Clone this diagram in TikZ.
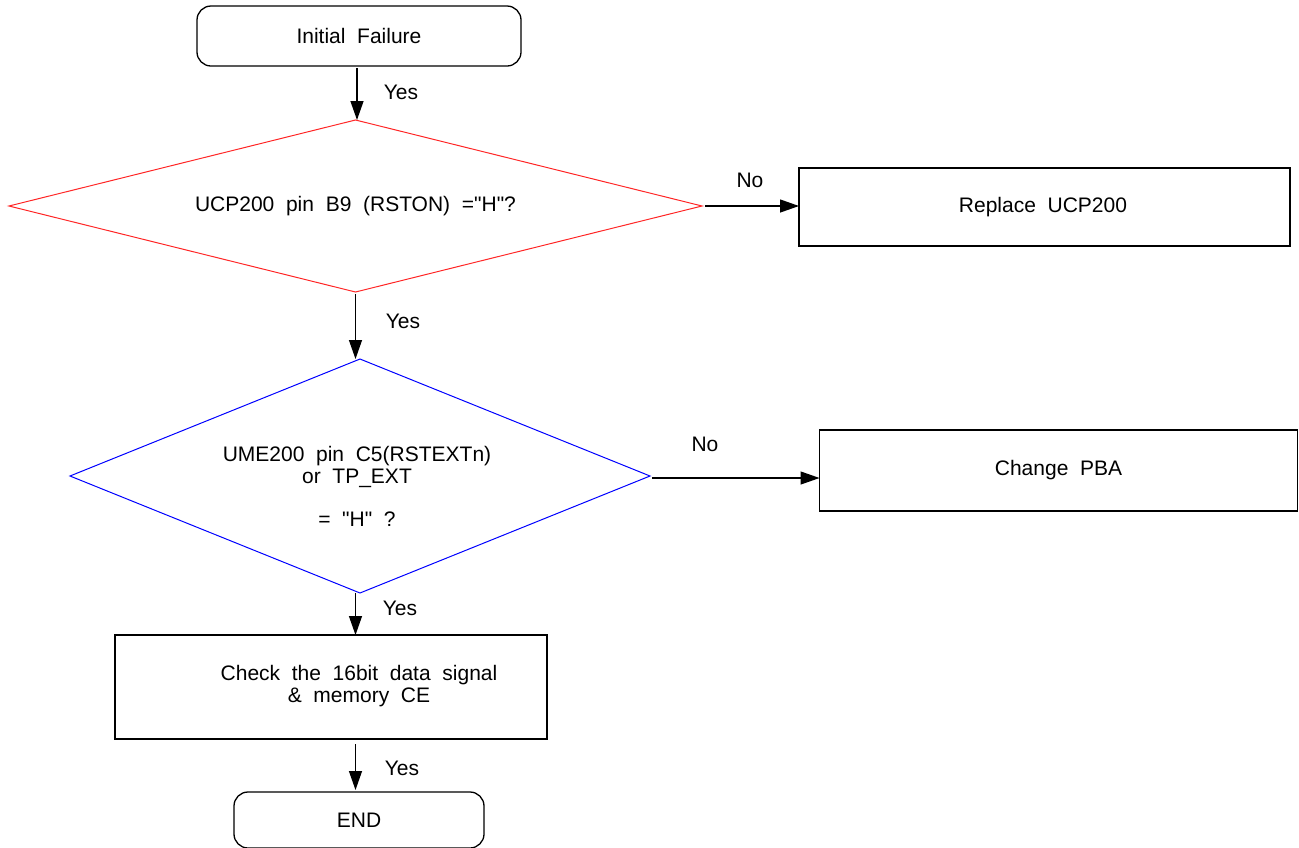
\documentclass[tikz,border=0pt]{standalone}
\usepackage{fontspec}
\setmainfont{Liberation Sans}[Ligatures=TeXOff]
\usetikzlibrary{arrows.meta}
\newcommand{\dq}{\char34\relax}
\begin{document}
\begin{tikzpicture}[x=1pt,y=-1pt,
  every node/.style={font=\fontsize{21}{22}\selectfont, inner sep=0pt, outer sep=0pt},
  termbox/.style={draw=black, line width=1.3pt, rounded corners=14pt, rectangle},
  procbox/.style={draw=black, line width=1.3pt, rectangle},
  decbox/.style={rectangle},
  reddia/.style={draw=red!85, line width=1pt},
  bluedia/.style={draw=blue, line width=1pt},
  flow/.style={draw=black, line width=1.3pt, -{Triangle[length=19pt,width=13pt]}},
  lbl/.style={anchor=center}
]
\path[use as bounding box] (0,0) rectangle (1299,847);
\clip (0,0) rectangle (1299,847);

\node[termbox, minimum width=324, minimum height=60] (init) at (359,36) {Initial\ \ Failure};
\node[decbox, minimum width=693, minimum height=172] (q1) at (355.5,206) {UCP200\ \ pin\ \ B9\ \ (RSTON)\ \ =\dq H\dq ?};
\draw[reddia] (q1.north) -- (q1.east) -- (q1.south) -- (q1.west) -- cycle;
\node[procbox, minimum width=491, minimum height=78] (repl) at (1044.5,207) {};
\node (repltxt) at (1043,207) {Replace\ \ UCP200};
\node[decbox, minimum width=580, minimum height=234] (q2) at (360,476) {};
\draw[bluedia] (q2.north) -- (q2.east) -- (q2.south) -- (q2.west) -- cycle;
\node[align=center] (q2txt) at (357,486) {UME200\ \ pin\ \ C5(RSTEXTn)\\or\ \ TP\_EXT\\[21pt]=\ \ \dq H\dq\ \ ?};
\node[procbox, minimum width=478, minimum height=81] (chg) at (1058.5,470.5) {Change\ \ PBA};
\node[procbox, minimum width=432, minimum height=104] (chk) at (331,687) {};
\node[align=center] (chktxt) at (359,686.5) {Check\ \ the\ \ 16bit\ \ data\ \ signal\\\&\ \ memory\ \ CE};
\node[termbox, minimum width=250, minimum height=56] (endn) at (359,820) {END};

\coordinate (a1s) at (357,68);
\draw[flow] (a1s) -- (q1.north -| a1s);
\draw[flow] ([xshift=3pt]q1.east) -- (q1.east -| repl.west);
\draw[flow] ([yshift=-2pt]q1.south) -- (q2.north -| q1.south);
\draw[flow] ([xshift=2pt,yshift=-2pt]q2.east) -- ([yshift=-2pt]q2.east -| chg.west);
\draw[flow] (q2.south -| q1.south) -- (chk.north -| q1.south);
\draw[flow] ([yshift=-5pt]chk.south -| q1.south) -- ([yshift=2pt]endn.north -| q1.south);

\node[lbl] (y1) at (401,92) {Yes};
\node[lbl] (y2) at (403,321) {Yes};
\node[lbl] (y3) at (400,608) {Yes};
\node[lbl] (y4) at (402,768) {Yes};
\node[lbl] (n1) at (750,180) {No};
\node[lbl] (n2) at (705,444) {No};
\end{tikzpicture}
\end{document}
